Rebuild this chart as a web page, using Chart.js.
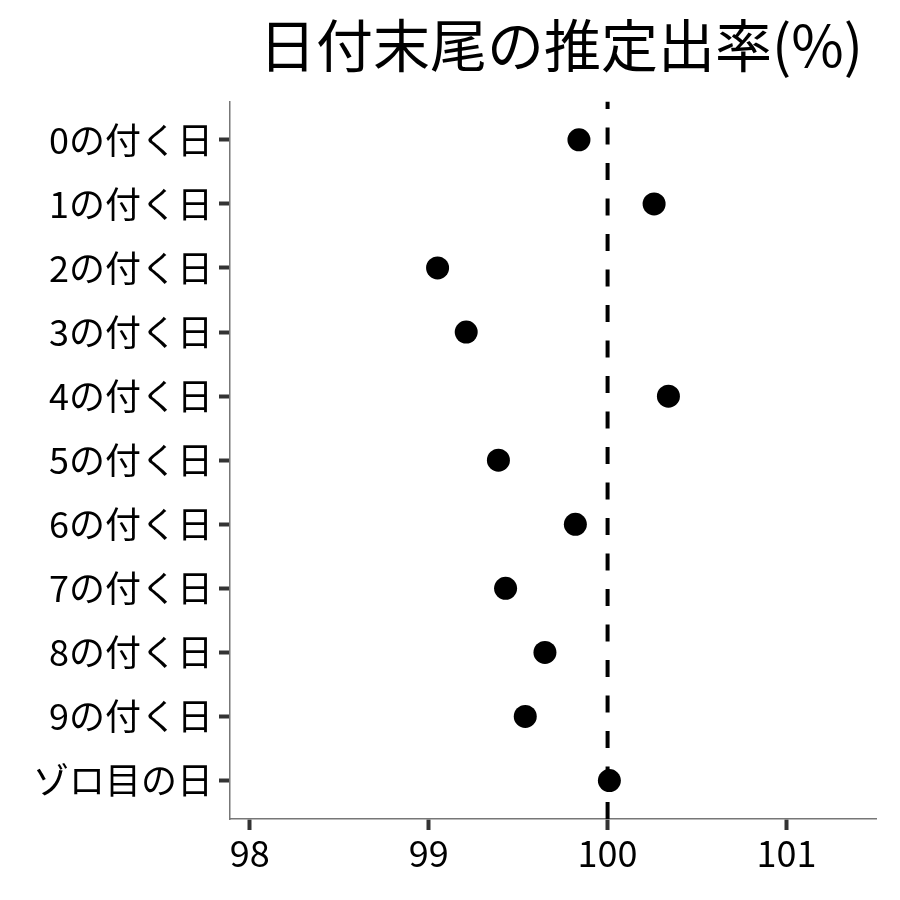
<!DOCTYPE html>
<html>
<head>
<meta charset="utf-8">
<script src="https://cdn.jsdelivr.net/npm/chart.js@4"></script>
<style>
html,body{margin:0;padding:0;background:#fff;}
#wrap{width:900px;height:900px;}
</style>
</head>
<body>
<div id="wrap"><canvas id="c" width="900" height="900"></canvas></div>
<script>
const titleText = '日付末尾の推定出率(%)';
const categories = ['0の付く日','1の付く日','2の付く日','3の付く日','4の付く日','5の付く日','6の付く日','7の付く日','8の付く日','9の付く日','ゾロ目の日'];
const rates = [99.84, 100.26, 99.05, 99.21, 100.34, 99.39, 99.82, 99.43, 99.65, 99.54, 100.01];
const xTicks = [98, 99, 100, 101];
const referenceValue = 100;
const xRange = [97.89, 101.5];

const FONT = '"Noto Sans CJK JP", "Noto Sans", sans-serif';

const pts = rates.map((v, i) => ({x: v, y: i}));
const refLine = [{x: referenceValue, y: -0.6}, {x: referenceValue, y: categories.length - 1 + 0.6}];

const titleShift = {
  id: 'titleShift',
  afterLayout(chart) {
    const t = chart.titleBlock;
    if (t) { t.left += 8; t.right += 8; }
  }
};

new Chart(document.getElementById('c'), {
  type: 'scatter',
  data: {
    datasets: [
      {
        type: 'line',
        data: refLine,
        borderColor: '#000',
        borderWidth: 4,
        borderDash: [17, 18.5],
        borderDashOffset: 9.5,
        pointRadius: 0,
        fill: false,
        order: 2
      },
      {
        data: pts,
        backgroundColor: '#000',
        borderColor: '#000',
        pointRadius: 11.5,
        pointHoverRadius: 11.5,
        borderWidth: 0,
        order: 1
      }
    ]
  },
  plugins: [titleShift],
  options: {
    responsive: false,
    animation: false,
    events: [],
    layout: {padding: {left: 0, right: 24, top: 0, bottom: 0}},
    plugins: {
      legend: {display: false},
      tooltip: {enabled: false},
      title: {
        display: true,
        text: titleText,
        fullSize: false,
        color: '#000',
        font: {family: FONT, size: 57, weight: 'normal', lineHeight: 1.2},
        padding: {top: 11, bottom: 22}
      }
    },
    scales: {
      x: {
        type: 'linear',
        min: xRange[0],
        max: xRange[1],
        afterBuildTicks: s => { s.ticks = xTicks.map(v => ({value: v})); },
        afterFit: s => { s.height = 81; },
        ticks: {
          color: '#000',
          font: {family: FONT, size: 36},
          padding: 2,
          callback: v => String(v),
          maxRotation: 0
        },
        grid: {drawOnChartArea: false, drawTicks: true, tickLength: 11, tickWidth: 4, tickColor: '#333'},
        border: {display: true, color: '#777', width: 1.5}
      },
      y: {
        type: 'linear',
        reverse: true,
        min: -0.6,
        max: categories.length - 1 + 0.6,
        afterBuildTicks: s => { s.ticks = categories.map((_, i) => ({value: i})); },
        afterFit: s => { s.width = 230; },
        ticks: {
          color: '#000',
          font: {family: FONT, size: 36},
          padding: 6,
          callback: (v) => categories[v] !== undefined ? categories[v] : ''
        },
        grid: {drawOnChartArea: false, drawTicks: true, tickLength: 11, tickWidth: 4, tickColor: '#333'},
        border: {display: true, color: '#777', width: 1.5}
      }
    }
  }
});
</script>
</body>
</html>
